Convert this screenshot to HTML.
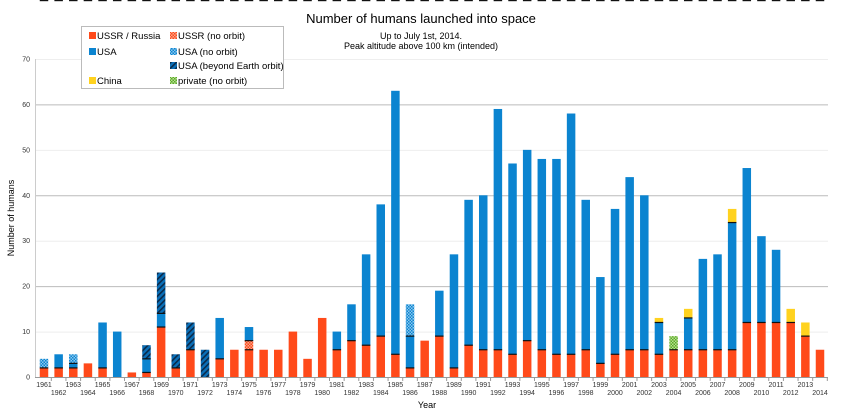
<!DOCTYPE html>
<html><head><meta charset="utf-8"><style>
body{margin:0;background:#fff;}
svg{display:block;font-family:"Liberation Sans",sans-serif;}
</style></head><body>
<svg id="s" width="841" height="413" xmlns="http://www.w3.org/2000/svg">
<defs>
<pattern id="hb" width="4" height="4" patternUnits="userSpaceOnUse" patternTransform="rotate(45)">
<rect width="4" height="4" fill="#0a6fb8"/><rect width="1.6" height="4" fill="#0a2a4a"/></pattern>
<pattern id="cb" width="3" height="3" patternUnits="userSpaceOnUse">
<rect width="3" height="3" fill="#8cc8ee"/><rect width="1.5" height="1.5" fill="#0b84d0"/><rect x="1.5" y="1.5" width="1.5" height="1.5" fill="#0b84d0"/></pattern>
<pattern id="cr" width="3" height="3" patternUnits="userSpaceOnUse">
<rect width="3" height="3" fill="#f9a58c"/><rect width="1.5" height="1.5" fill="#ff4a1a"/><rect x="1.5" y="1.5" width="1.5" height="1.5" fill="#ff4a1a"/></pattern>
<pattern id="cg" width="3" height="3" patternUnits="userSpaceOnUse">
<rect width="3" height="3" fill="#b8e090"/><rect width="1.5" height="1.5" fill="#5aa82a"/><rect x="1.5" y="1.5" width="1.5" height="1.5" fill="#5aa82a"/></pattern>
</defs>
<text x="421" y="23" font-size="13" text-anchor="middle">Number of humans launched into space</text>
<text x="421" y="39" font-size="9" text-anchor="middle">Up to July 1st, 2014.</text>
<text x="421" y="49" font-size="9" text-anchor="middle">Peak altitude above 100 km (intended)</text>
<g id="grid"></g>
<g id="bars"></g>
<g id="lab" font-size="7" fill="#333"></g>
<text x="427" y="408" font-size="9" text-anchor="middle">Year</text>
<text transform="translate(14,218) rotate(-90)" font-size="9" text-anchor="middle">Number of humans</text>
<rect x="81.5" y="26.5" width="202" height="62" fill="#fff" stroke="#bbb"/>
<g font-size="9.5">
<rect x="89" y="32" width="7" height="7" fill="#ff4a1a"/><text x="97" y="39">USSR / Russia</text>
<rect x="89" y="48" width="7" height="7" fill="#0b84d0"/><text x="97" y="55">USA</text>
<rect x="89" y="77" width="7" height="7" fill="#ffd21f"/><text x="97" y="84">China</text>
<rect x="170" y="32" width="7" height="7" fill="url(#cr)"/><text x="178" y="39">USSR (no orbit)</text>
<rect x="170" y="48" width="7" height="7" fill="url(#cb)"/><text x="178" y="55">USA (no orbit)</text>
<rect x="170" y="62" width="7" height="7" fill="url(#hb)"/><text x="178" y="69">USA (beyond Earth orbit)</text>
<rect x="170" y="77" width="7" height="7" fill="url(#cg)"/><text x="178" y="84">private (no orbit)</text>
</g>
</svg>
<script>
var NS="http://www.w3.org/2000/svg";
function el(p,t,a,txt){var e=document.createElementNS(NS,t);for(var k in a)e.setAttribute(k,a[k]);if(txt!==undefined)e.textContent=txt;p.appendChild(e);return e;}
var y0=377,sc=318/70,x0=35,x1=828;
var g=document.getElementById('grid'),b=document.getElementById('bars'),l=document.getElementById('lab');
for(var v=0;v<=70;v+=10){var y=y0-v*sc;el(g,'line',{x1:x0,x2:x1,y1:y+.5,y2:y+.5,stroke:v==0?'#999':(v%20==0?'#bbb':'#eee'),'stroke-width':1});
el(l,'text',{x:30,y:y+2.5,'text-anchor':'end'},v);}
el(g,'line',{x1:x0+.5,x2:x0+.5,y1:59,y2:y0,stroke:'#ccc'});
var D={1961:[['R',2],['Un',2]],1962:[['R',2],['U',3]],1963:[['R',2],['U',1],['Un',2]],1964:[['R',3]],1965:[['R',2],['U',10]],1966:[['U',10]],1967:[['R',1]],1968:[['R',1],['U',3],['B',3]],1969:[['R',11],['U',3],['B',9]],1970:[['R',2],['B',3]],1971:[['R',6],['B',6]],1972:[['B',6]],1973:[['R',4],['U',9]],1974:[['R',6]],1975:[['R',6],['Rn',2],['U',3]],1976:[['R',6]],1977:[['R',6]],1978:[['R',10]],1979:[['R',4]],1980:[['R',13]],1981:[['R',6],['U',4]],1982:[['R',8],['U',8]],1983:[['R',7],['U',20]],1984:[['R',9],['U',29]],1985:[['R',5],['U',58]],1986:[['R',2],['U',7],['Un',7]],1987:[['R',8]],1988:[['R',9],['U',10]],1989:[['R',2],['U',25]],1990:[['R',7],['U',32]],1991:[['R',6],['U',34]],1992:[['R',6],['U',53]],1993:[['R',5],['U',42]],1994:[['R',8],['U',42]],1995:[['R',6],['U',42]],1996:[['R',5],['U',43]],1997:[['R',5],['U',53]],1998:[['R',6],['U',33]],1999:[['R',3],['U',19]],2000:[['R',5],['U',32]],2001:[['R',6],['U',38]],2002:[['R',6],['U',34]],2003:[['R',5],['U',7],['C',1]],2004:[['R',6],['P',3]],2005:[['R',6],['U',7],['C',2]],2006:[['R',6],['U',20]],2007:[['R',6],['U',21]],2008:[['R',6],['U',28],['C',3]],2009:[['R',12],['U',34]],2010:[['R',12],['U',19]],2011:[['R',12],['U',16]],2012:[['R',12],['C',3]],2013:[['R',9],['C',3]],2014:[['R',6]]};
var F={R:'#ff4a1a',U:'#0b84d0',Un:'url(#cb)',Rn:'url(#cr)',B:'url(#hb)',C:'#ffd21f',P:'url(#cg)'};
var step=(820-44)/53;
for(var yr=1961;yr<=2014;yr++){var cx=44+(yr-1961)*step,bw=8.5,bx=cx-4.25;var s=D[yr],c=0;
 s.forEach(function(p){var ya=y0-(c+p[1])*sc,h=p[1]*sc;el(b,'rect',{x:bx,y:ya,width:bw,height:h,fill:F[p[0]]});
  if(c>0)el(b,'rect',{x:bx,y:y0-c*sc-0.6,width:bw,height:1.2,fill:'#111'});c+=p[1];});
 var top=y0-c*sc;
 el(b,'rect',{x:bx,y:top,width:bw,height:1.2,fill:'#111'});
 el(b,'rect',{x:bx+bw-1.2,y:top,width:1.2,height:y0-top,fill:'#333','fill-opacity':0.6});
 el(l,'text',{x:cx,y:(yr%2?387:395),'text-anchor':'middle'},yr);
 el(g,'line',{x1:cx+step/2,x2:cx+step/2,y1:y0,y2:y0+4,stroke:'#999'});
}
</script>
</body></html>
